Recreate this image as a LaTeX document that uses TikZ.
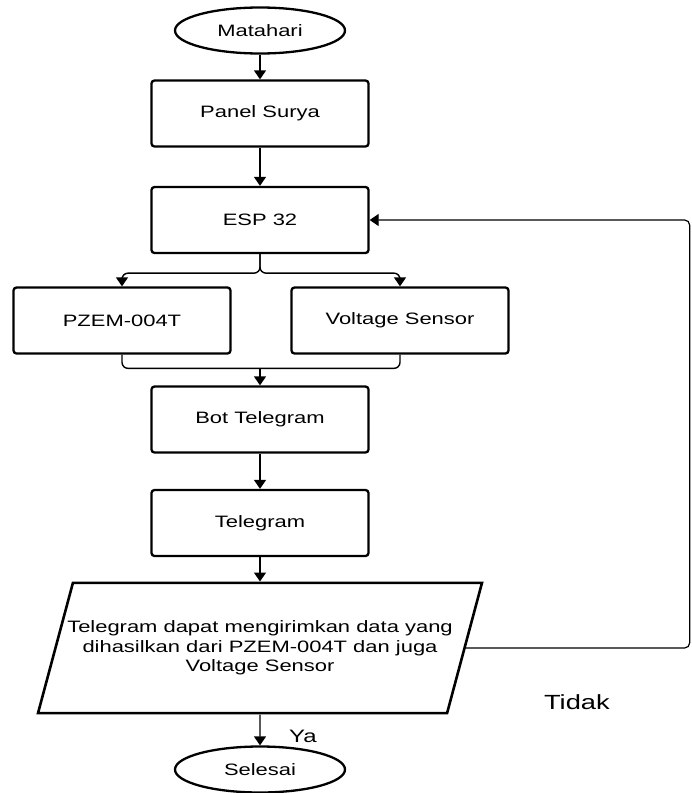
\documentclass[tikz,border=0pt]{standalone}
\usepackage{fontspec}
\setmainfont{Liberation Sans}[FakeStretch=1.33]
\usepackage{tikz}
\usetikzlibrary{shapes.geometric,fit}
\usetikzlibrary{arrows,arrows.meta,positioning}
\usetikzlibrary{calc}

\begin{document}
\begin{tikzpicture}[x=1pt,y=-1pt,>={Triangle[width=12pt,length=9pt]},auto,
    line width=1.4pt,
    proc node/.style={rectangle,rounded corners=3pt,draw,line width=2.3pt,
    font=\fontsize{16.5}{19.5}\selectfont,minimum width=217pt,minimum height=66pt},
    term node/.style={ellipse,draw,line width=2.3pt,inner sep=0pt,
    font=\fontsize{16.5}{19.5}\selectfont,minimum width=170pt,minimum height=46pt},
    io node/.style={trapezium,trapezium left angle=75,trapezium right angle=105,
    trapezium stretches body=true,draw,line width=2.6pt,align=center,
    inner xsep=-15pt,inner ysep=38pt,
    font=\fontsize{16.5}{19.5}\selectfont,minimum width=444pt,minimum height=130pt}]

    \useasboundingbox (0,0) rectangle (692,793);

    \node[term node] (Matahari) at (260,30.5) {Matahari};

    \node[proc node] (PanelSurya) [node distance=83pt,below of=Matahari] {Panel Surya};

    \node[proc node] (ESP) [node distance=106.5pt,below of=PanelSurya] {ESP 32};

    \node[proc node] (PZEM) [node distance=100.5pt,below of=ESP,xshift=-138pt] {PZEM-004T};

    \node[proc node] (Voltage) [node distance=100.5pt,below of=ESP,xshift=140pt] {Voltage Sensor};

    \node[proc node] (BotTelegram) [node distance=199.5pt,below of=ESP] {Bot Telegram};

    \node[proc node] (Telegram) [node distance=103.5pt,below of=BotTelegram] {Telegram};

    \node[io node] (KirimData) [node distance=125pt,below of=Telegram]
        {Telegram dapat mengirimkan data yang\\dihasilkan dari PZEM-004T dan juga\\Voltage Sensor};

    \node[term node] (Selesai) [node distance=121.5pt,below of=KirimData] {Selesai};

    \node[font=\fontsize{18}{20}\selectfont,inner sep=0pt] (Ya) at ($(Selesai.north)+(43,-9)$) {Ya};

    \node[font=\fontsize{20.5}{22}\selectfont,inner sep=0pt] (Tidak) at ($(KirimData.east)+(111,54)$) {Tidak};

    \coordinate[below=19pt of ESP.south] (Cabang);
    \coordinate[above=17pt of BotTelegram.north] (Gabung);
    \coordinate[right=320pt of ESP.east] (Balik);

    \draw [->] (Matahari) edge (PanelSurya) (PanelSurya) edge (ESP);

    \draw [->,rounded corners=6pt] (ESP.south) -- (Cabang) -| (PZEM.north);
    \draw [->,rounded corners=6pt] (ESP.south) -- (Cabang) -| (Voltage.north);

    \draw [rounded corners=6pt] (PZEM.south) |- (Gabung) (Voltage.south) |- (Gabung);
    \draw [->] (Gabung) -- (BotTelegram.north);

    \draw [->] (BotTelegram) edge (Telegram) (Telegram) edge (KirimData) (KirimData) edge (Selesai);

    \draw [->,line width=1.2pt,rounded corners=5pt] (KirimData.east) -| (Balik) -- (ESP.east);
  \end{tikzpicture}
\end{document}
